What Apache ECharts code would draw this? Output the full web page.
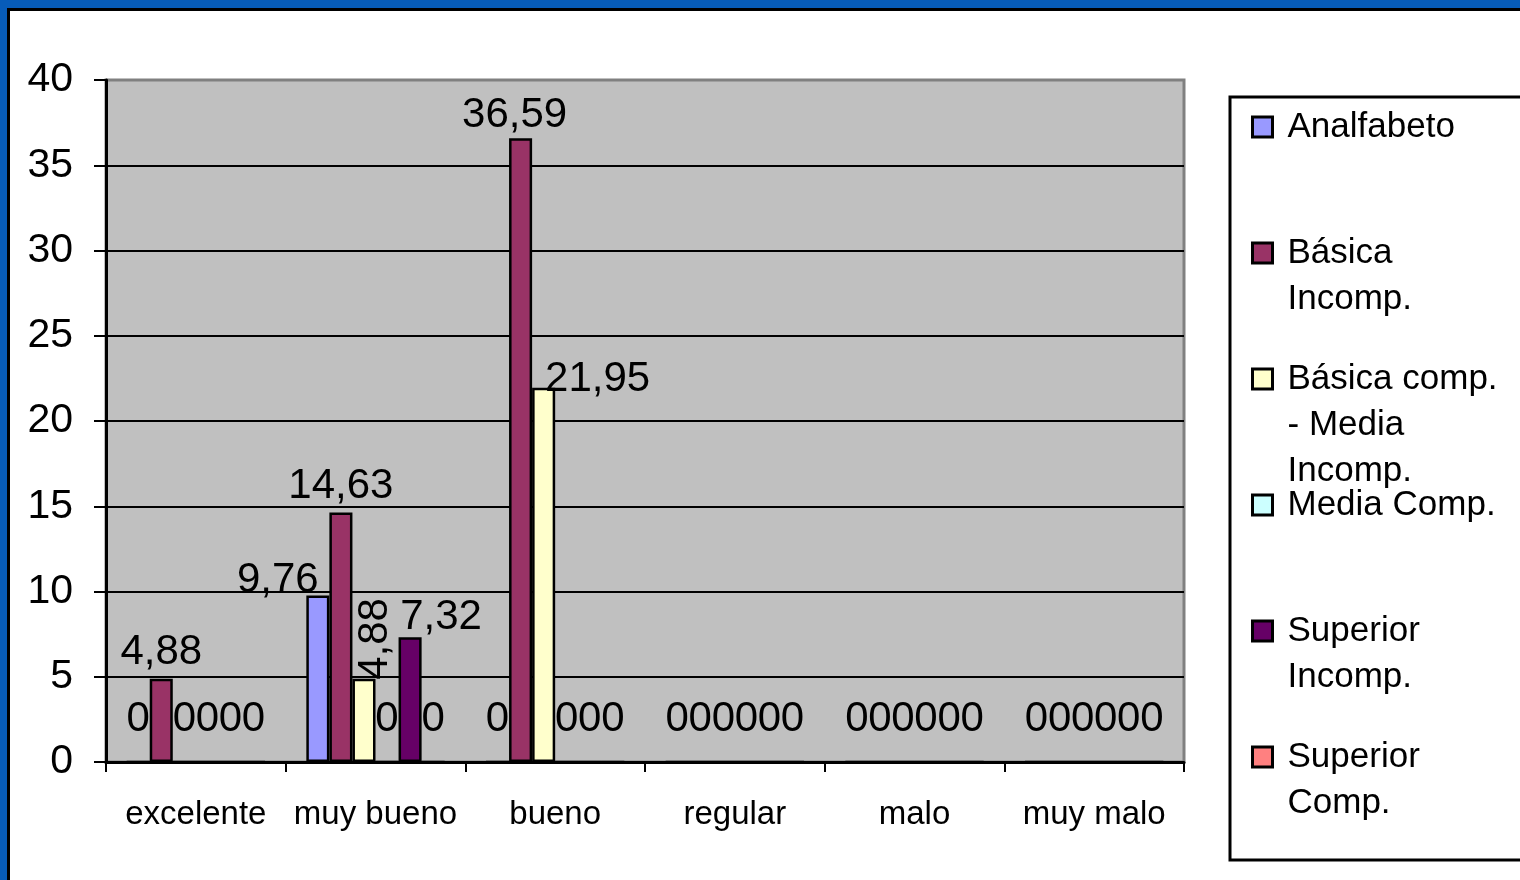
<!DOCTYPE html>
<html lang="es">
<head>
    <meta charset="UTF-8">
    <title>Chart</title>
    <script src="https://cdn.jsdelivr.net/npm/echarts@6/dist/echarts.min.js"></script>
    <style>
        html, body { margin: 0; padding: 0; background: #075cb9; }
        #frame { position: absolute; left: 7px; top: 8px; width: 1513px; height: 872px; background: #fff;
                 border-top: 3px solid #000; border-left: 3px solid #000; box-sizing: border-box; }
        #main { position: absolute; left: 0; top: 0; width: 1520px; height: 880px; }
    </style>
</head>
<body>
    <div id="frame"></div>
    <div id="main"></div>
    <script type="text/javascript">
        var categories = ['excelente', 'muy bueno', 'bueno', 'regular', 'malo', 'muy malo'];
        var seriesNames = ['Analfabeto', 'Básica Incomp.', 'Básica comp. - Media Incomp.',
            'Media Comp.', 'Superior Incomp.', 'Superior Comp.'];
        var analfabeto = [0, 9.76, 0, 0, 0, 0];
        var basicaIncomp = [4.88, 14.63, 36.59, 0, 0, 0];
        var basicaCompMediaIncomp = [0, 4.88, 21.95, 0, 0, 0];
        var mediaComp = [0, 0, 0, 0, 0, 0];
        var superiorIncomp = [0, 7.32, 0, 0, 0, 0];
        var superiorComp = [0, 0, 0, 0, 0, 0];
        var allValues = [analfabeto, basicaIncomp, basicaCompMediaIncomp, mediaComp, superiorIncomp, superiorComp];

        var colors = ['#9999ff', '#993366', '#ffffcc', '#ccffff', '#660066', '#ff8080'];
        var font = "'Liberation Sans', Arial, sans-serif";

        // how the legend text wraps in the box
        var legendLines = [['Analfabeto'], ['Básica', 'Incomp.'], ['Básica comp.', '- Media', 'Incomp.'],
            ['Media Comp.'], ['Superior', 'Incomp.'], ['Superior', 'Comp.']];
        var legendCenters = [127, 253, 379, 505, 631, 757];
        var LH = 46;

        // labels that were moved around in the original
        var labelTweaks = {
            '0,1': { offset: [-40, 11] },
            '2,1': { rotate: 90, align: 'left', verticalAlign: 'middle', distance: 3, offset: [-4, 11] },
            '4,1': { offset: [31, 6] },
            '1,2': { offset: [-6, 3] },
            '2,2': { offset: [54, 18] }
        };

        function fmt(v) {
            return v === 0 ? '0' : v.toFixed(2).replace('.', ',');
        }

        var series = allValues.map(function (vals, s) {
            return {
                name: seriesNames[s],
                type: 'bar',
                barGap: '0%',
                barCategoryGap: '23%',
                itemStyle: { color: colors[s], borderColor: '#000', borderWidth: 2.5 },
                label: {
                    show: true, position: 'top', distance: 5,
                    fontSize: 42, fontFamily: font, color: '#000',
                    formatter: function (p) { return fmt(p.value); }
                },
                data: vals.map(function (v, c) {
                    var lab = labelTweaks[s + ',' + c];
                    if (v === 0) lab = { distance: 20 };
                    return lab ? { value: v, label: lab } : v;
                })
            };
        });

        // blank lines in front keep the icon level with the first text line
        var legends = seriesNames.map(function (name, i) {
            var n = legendLines[i].length;
            var text = new Array(n).join('\n') + legendLines[i].join('\n');
            return {
                data: [name],
                left: 1251,
                top: legendCenters[i] - (2 * n - 1) * LH / 2,
                padding: 0,
                icon: 'rect',
                itemWidth: 20,
                itemHeight: 20,
                itemStyle: { borderColor: '#000', borderWidth: 3 },
                formatter: function () { return text; },
                textStyle: {
                    fontSize: 35, fontFamily: font, color: '#000', lineHeight: LH,
                    padding: [0, 0, 0, 10]
                }
            };
        });

        var myChart = echarts.init(document.getElementById('main'));

        var option = {
            animation: false,
            backgroundColor: 'transparent',
            textStyle: { fontFamily: font },
            legend: legends,
            graphic: [{
                type: 'rect',
                shape: { x: 1230, y: 97, width: 320, height: 763 },
                style: { fill: 'none', stroke: '#000', lineWidth: 3 },
                silent: true
            }],
            grid: {
                left: 106, top: 80, width: 1078, height: 682,
                show: true, backgroundColor: '#c0c0c0', borderColor: '#808080', borderWidth: 3
            },
            xAxis: {
                type: 'category',
                data: categories,
                axisLine: { lineStyle: { color: '#000', width: 3 } },
                axisTick: { show: true, length: 10, lineStyle: { color: '#000', width: 2 } },
                axisLabel: { interval: 0, fontSize: 33, color: '#000', margin: 36, fontFamily: font }
            },
            yAxis: {
                type: 'value',
                min: 0, max: 40, interval: 5,
                axisLine: { show: true, lineStyle: { color: '#000', width: 3 } },
                axisTick: { show: true, length: 12, lineStyle: { color: '#000', width: 2 } },
                axisLabel: { fontSize: 41, color: '#000', margin: 33, fontFamily: font },
                splitLine: { show: true, showMaxLine: false, lineStyle: { color: '#000', width: 2 } }
            },
            series: series
        };

        myChart.setOption(option);
    </script>
</body>
</html>
